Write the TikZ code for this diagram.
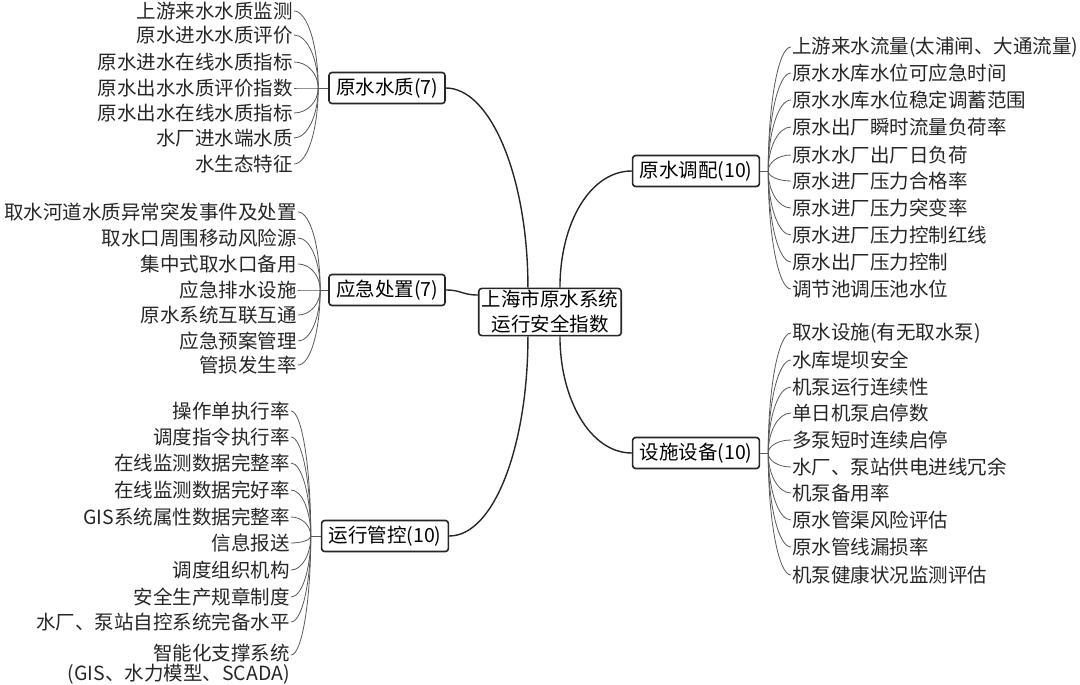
\documentclass[tikz,border=0pt]{standalone}
\usepackage{fontspec}
\setmainfont{Noto Sans CJK SC}
\usetikzlibrary{calc}

\begin{document}
\begin{tikzpicture}[x=1pt, y=1pt,
  hub/.style={draw=black!85, line width=1.6pt, rounded corners=3pt, fill=white, align=center, inner xsep=3pt, inner ysep=2pt, font=\fontsize{19.5}{25}\selectfont},
  branch/.style={draw=black!85, line width=1.6pt, rounded corners=3pt, fill=white, inner xsep=7pt, inner ysep=2pt, minimum height=31pt, font=\fontsize{19.5}{22}\selectfont},
  leaf/.style={inner sep=1pt, text=black!85, font=\fontsize{19.5}{20}\selectfont},
  trunk/.style={black!85, line width=1.4pt},
  twig/.style={black!65, line width=0.8pt}]
  \useasboundingbox (0,0) rectangle (1080,-685);

  % centre and the five branches
  \node[hub] (hub) at (550,-312) {上海市原水系统\\运行安全指数};
  \node[branch] (b1) at (387,-88) {原水水质(7)};
  \node[branch] (b2) at (387,-290) {应急处置(7)};
  \node[branch] (b3) at (385,-536) {运行管控(10)};
  \node[branch] (b4) at (696,-171) {原水调配(10)};
  \node[branch] (b5) at (696,-453) {设施设备(10)};

  \draw[trunk] ($(hub.north west)+(50,0)$) .. controls +(0,110) and +(45,0) .. (b1.east);
  \draw[trunk] ($(hub.west)+(0,17)$) .. controls +(-16,0) and +(16,0) .. (b2.east);
  \draw[trunk] ($(hub.south west)+(50,0)$) .. controls +(0,-109) and +(45,0) .. (b3.east);
  \draw[trunk] ($(hub.north west)+(82,0)$) .. controls +(0,64) and +(-42,0) .. (b4.west);
  \draw[trunk] ($(hub.south west)+(82,0)$) .. controls +(0,-62) and +(-42,0) .. (b5.west);

  % junctions of the leaf fans
  \coordinate (j1) at ($(b1.west)+(-10,0)$);
  \coordinate (j2) at ($(b2.west)+(-8,0)$);
  \coordinate (j3) at ($(b3.west)+(-10,0)$);
  \coordinate (j4) at ($(b4.east)+(8,0)$);
  \coordinate (j5) at ($(b5.east)+(8,0)$);
  \draw[twig] (b1.west) -- (j1);
  \draw[twig] (b2.west) -- (j2);
  \draw[twig] (b3.west) -- (j3);
  \draw[twig] (b4.east) -- (j4);
  \draw[twig] (b5.east) -- (j5);

  % 原水水质
  \foreach \y/\t [count=\i] in {11/上游来水水质监测, 35/原水进水水质评价, 62/原水进水在线水质指标,
      88/原水出水水质评价指数, 113/原水出水在线水质指标, 138/水厂进水端水质, 164/水生态特征} {
    \node[leaf, anchor=east] (a\i) at (294,-\y) {\t};
    \coordinate (k) at (j1 |- a\i.east);
    \draw[twig] (j1) .. controls ($(j1)!0.55!(k)$) and ($(a\i.east)!0.55!(k)$) .. (a\i.east);
  }

  % 应急处置
  \foreach \y/\t [count=\i] in {212/取水河道水质异常突发事件及处置, 238/取水口周围移动风险源, 264/集中式取水口备用,
      290/应急排水设施, 315/原水系统互联互通, 341/应急预案管理, 365/管损发生率} {
    \node[leaf, anchor=east] (e\i) at (298,-\y) {\t};
    \coordinate (k) at (j2 |- e\i.east);
    \draw[twig] (j2) .. controls ($(j2)!0.55!(k)$) and ($(e\i.east)!0.55!(k)$) .. (e\i.east);
  }

  % 运行管控
  \foreach \y/\t [count=\i] in {411/操作单执行率, 437/调度指令执行率, 463/在线监测数据完整率,
      490/在线监测数据完好率, 517/GIS系统属性数据完整率, 543/信息报送, 570/调度组织机构,
      597/安全生产规章制度, 622/水厂、泵站自控系统完备水平} {
    \node[leaf, anchor=east] (r\i) at (291,-\y) {\t};
    \coordinate (k) at (j3 |- r\i.east);
    \draw[twig] (j3) .. controls ($(j3)!0.55!(k)$) and ($(r\i.east)!0.55!(k)$) .. (r\i.east);
  }
  \node[leaf, anchor=north east, align=right] (r10) at (291,-643) {智能化支撑系统\\(GIS、水力模型、SCADA)};
  \coordinate (r10e) at ($(r10.north east)+(0,-12)$);
  \coordinate (k) at (j3 |- r10e);
  \draw[twig] (j3) .. controls ($(j3)!0.55!(k)$) and ($(r10e)!0.55!(k)$) .. (r10e);

  % 原水调配
  \foreach \y/\t [count=\i] in {47/上游来水流量(太浦闸、大通流量), 73/原水水库水位可应急时间, 100/原水水库水位稳定调蓄范围,
      127/原水出厂瞬时流量负荷率, 155/原水水厂出厂日负荷, 181/原水进厂压力合格率, 208/原水进厂压力突变率,
      235/原水进厂压力控制红线, 262/原水出厂压力控制, 289/调节池调压池水位} {
    \node[leaf, anchor=west] (d\i) at (791,-\y) {\t};
    \coordinate (k) at (j4 |- d\i.west);
    \draw[twig] (j4) .. controls ($(j4)!0.55!(k)$) and ($(d\i.west)!0.55!(k)$) .. (d\i.west);
  }

  % 设施设备
  \foreach \y/\t [count=\i] in {333/取水设施(有无取水泵), 360/水库堤坝安全, 387/机泵运行连续性,
      413/单日机泵启停数, 440/多泵短时连续启停, 467/水厂、泵站供电进线冗余, 493/机泵备用率,
      520/原水管渠风险评估, 547/原水管线漏损率, 575/机泵健康状况监测评估} {
    \node[leaf, anchor=west] (s\i) at (791,-\y) {\t};
    \coordinate (k) at (j5 |- s\i.west);
    \draw[twig] (j5) .. controls ($(j5)!0.55!(k)$) and ($(s\i.west)!0.55!(k)$) .. (s\i.west);
  }
\end{tikzpicture}
\end{document}
